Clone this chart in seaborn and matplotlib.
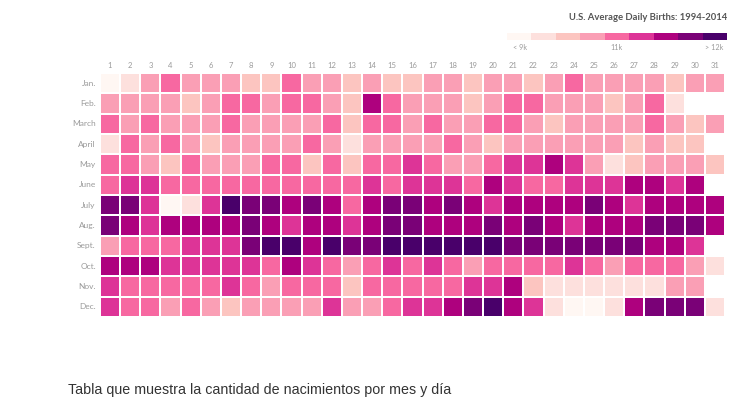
import numpy as np
import pandas as pd
import matplotlib
matplotlib.use("Agg")
import matplotlib.pyplot as plt
from matplotlib.colors import ListedColormap
import seaborn as sns

months = ["Jan.", "Feb.", "March", "April", "May", "June", "July", "Aug.",
          "Sept.", "Oct.", "Nov.", "Dec."]
days = list(range(1, 32))

# birth level bins (0 = < 9k ... 8 = > 12k), None = no such date
jan = [0,1,3,4,3,3,3,2,2,4,3,3,2,3,2, 2,3,3,2,3,3,2,3,4,3,3,3,3,2,3,3]
feb = [3,3,3,3,2,3,4,4,3,4,4,3,2,6,4, 3,3,3,2,3,4,4,3,3,3,2,3,4,1,None,None]
mar = [4,3,4,3,3,3,4,3,3,3,3,4,2,4,4, 3,4,3,3,4,4,3,2,3,3,3,3,4,3,2,3]
apr = [1,4,3,4,3,2,3,3,3,3,4,3,1,3,3, 3,3,4,3,2,3,3,3,3,3,3,2,3,2,2,None]
may = [4,4,3,2,4,3,3,3,4,4,2,4,2,4,4, 5,4,3,3,4,5,5,6,5,3,1,2,3,3,3,2]
jun = [4,5,5,4,4,4,4,4,4,4,4,4,4,5,4, 5,5,5,4,6,5,4,4,5,5,5,6,6,5,6,None]
jul = [7,7,5,0,1,5,8,7,7,6,7,6,4,6,7, 7,6,7,6,5,6,6,6,6,7,6,5,6,6,6,6]
aug = [7,6,5,6,6,6,6,7,6,5,6,6,5,6,7, 7,6,6,6,7,6,7,6,5,6,6,6,7,7,7,6]
sep = [3,4,4,4,5,5,5,7,8,8,6,8,7,7,8, 8,8,8,8,8,7,7,7,7,7,7,7,6,6,5,None]
oct_ = [6,6,6,5,5,5,5,5,4,6,5,4,3,4,5, 4,5,4,3,4,4,4,4,5,4,3,4,4,4,3,1]
nov = [5,4,4,4,4,4,5,4,3,4,4,4,2,4,4, 4,4,4,5,5,6,2,1,1,1,1,1,1,3,3,None]
dec = [5,4,4,3,4,3,2,3,3,3,3,5,3,3,4, 5,5,6,7,8,6,5,1,0,0,1,6,7,7,7,1]

legend_labels = ["< 9k", "11k", "> 12k"]
title = "U.S. Average Daily Births: 1994-2014"
caption = "Tabla que muestra la cantidad de nacimientos por mes y día"

rows = [jan, feb, mar, apr, may, jun, jul, aug, sep, oct_, nov, dec]
df = pd.DataFrame([[np.nan if v is None else v for v in r] for r in rows],
                  index=months, columns=days, dtype=float)

colors = ["#fff7f3", "#fde0dd", "#fcc5c0", "#fa9fb5", "#f768a1",
          "#dd3497", "#ae017e", "#7a0177", "#49006a"]
cmap = ListedColormap(colors)

sns.set_theme(style="white")
plt.rcParams['font.family'] = ['Lato', 'DejaVu Sans']

fig = plt.figure(figsize=(7.5, 4), dpi=100)
fig.patch.set_facecolor("white")

ax = fig.add_axes([100/750, 1-317/400, 625/750, 244/400])
sns.heatmap(df, ax=ax, cmap=cmap, vmin=-0.5, vmax=8.5, cbar=False,
            linewidths=1.2, linecolor="white", square=False)
ax.xaxis.tick_top()
ax.set_xlabel("")
ax.set_ylabel("")
ax.tick_params(axis="both", length=0, pad=3)
ax.set_xticklabels([str(d) for d in days], fontsize=5.5, color="#9a9a9a", rotation=0)
ax.set_yticklabels(months, fontsize=6, color="#9a9a9a", rotation=0)
for s in ax.spines.values():
    s.set_visible(False)

# legend bar
lax = fig.add_axes([507/750, 1-40/400, 220/750, 7/400])
sns.heatmap(np.arange(9).reshape(1, 9), ax=lax, cmap=cmap, vmin=-0.5, vmax=8.5,
            cbar=False, linewidths=0, xticklabels=False, yticklabels=False)
for s in lax.spines.values():
    s.set_visible(False)

fig.text(727/750, 1-18/400, title, ha="right", va="center", fontsize=6.8,
         fontweight="bold", color="#555555")
fig.text(520/750, 1-47/400, legend_labels[0], ha="center", va="center",
         fontsize=5.2, color="#9a9a9a")
fig.text(617/750, 1-47/400, legend_labels[1], ha="center", va="center",
         fontsize=5.2, color="#9a9a9a")
fig.text(714/750, 1-47/400, legend_labels[2], ha="center", va="center",
         fontsize=5.2, color="#9a9a9a")

fig.text(68/750, 1-390/400, caption, ha="left", va="center", fontsize=10.3,
         color="#333333", family=["Liberation Sans", "DejaVu Sans"])

fig.savefig("out.png", dpi=100, facecolor="white")
